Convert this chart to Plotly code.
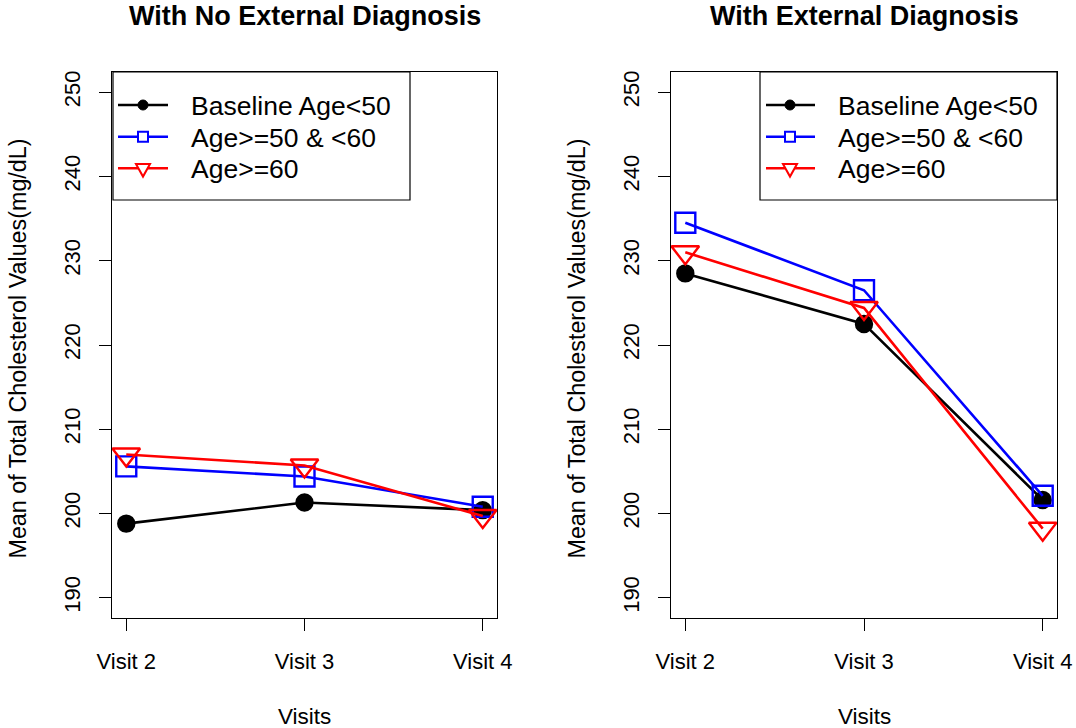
import plotly.graph_objects as go

visits = [1, 2, 3]
visit_labels = ["Visit 2", "Visit 3", "Visit 4"]
series_names = ["Baseline Age<50", "Age>=50 & <60", "Age>=60"]

no_ext_age_lt50 = [198.8, 201.3, 200.4]
no_ext_age_50_60 = [205.6, 204.4, 200.8]
no_ext_age_ge60 = [207.0, 205.7, 199.7]

ext_age_lt50 = [228.5, 222.5, 201.6]
ext_age_50_60 = [234.5, 226.5, 202.1]
ext_age_ge60 = [231.0, 224.4, 198.2]

panel_titles = ["With No External Diagnosis", "With External Diagnosis"]
y_ticks = [190, 200, 210, 220, 230, 240, 250]
y_title = "Mean of Total Cholesterol Values(mg/dL)"
x_title = "Visits"

colors = ["black", "blue", "red"]
symbols = ["circle", "square-open", "triangle-down-open"]
msizes = [16, 20, 24]

FONT = "Liberation Sans, Arial, Helvetica, sans-serif"
W, H = 1076, 728


def px(x):
    return x / W


def py(y):
    return 1 - y / H


fig = go.Figure()

panels = [
    [no_ext_age_lt50, no_ext_age_50_60, no_ext_age_ge60],
    [ext_age_lt50, ext_age_50_60, ext_age_ge60],
]

for p, data in enumerate(panels):
    xa = "x" if p == 0 else "x2"
    ya = "y" if p == 0 else "y2"
    for i, vals in enumerate(data):
        fig.add_trace(go.Scatter(
            x=visits, y=vals, mode="lines+markers", name=series_names[i],
            line=dict(color=colors[i], width=2.6),
            marker=dict(symbol=symbols[i], size=msizes[i], color=colors[i],
                        line=dict(color=colors[i], width=2.4)),
            xaxis=xa, yaxis=ya, showlegend=False,
        ))

# pixel geometry of plot boxes (page pixels)
boxes = [(112, 497), (671, 1057)]
top_px, bot_px = 72, 618
ydom = [py(bot_px), py(top_px)]

axis_common = dict(
    showline=True, linecolor="black", linewidth=1.2, mirror=True,
    ticks="outside", ticklen=12, tickwidth=1.2, tickcolor="black",
    showgrid=False, zeroline=False, automargin=False, ticklabeloverflow="allow",
    tickfont=dict(family=FONT, size=22, color="black"),
)

layout = dict(
    width=W, height=H, autosize=False,
    margin=dict(l=0, r=0, t=0, b=0, autoexpand=False),
    paper_bgcolor="white", plot_bgcolor="white",
    font=dict(family=FONT, color="black"),
    showlegend=False,
    annotations=[], shapes=[],
)

for p in range(2):
    xk = "xaxis" if p == 0 else "xaxis2"
    yk = "yaxis" if p == 0 else "yaxis2"
    x0, x1 = boxes[p]
    layout[xk] = dict(axis_common, domain=[px(x0), px(x1)], range=[0.92, 3.08],
                      tickvals=visits, ticktext=visit_labels,
                      anchor="y" if p == 0 else "y2", ticklabelstandoff=11)
    layout[yk] = dict(axis_common, domain=ydom, range=[187.6, 252.4],
                      tickvals=y_ticks, tickangle=-90,
                      anchor="x" if p == 0 else "x2", ticklabelstandoff=10)
    cx = px((x0 + x1) / 2)
    layout["annotations"].append(dict(
        text="<b>" + panel_titles[p] + "</b>", x=cx, y=py(16),
        xref="paper", yref="paper", showarrow=False, xanchor="center", yanchor="middle",
        font=dict(family=FONT, size=27, color="black")))
    layout["annotations"].append(dict(
        text=x_title, x=cx, y=py(716),
        xref="paper", yref="paper", showarrow=False, xanchor="center", yanchor="middle",
        font=dict(family=FONT, size=22.5, color="black")))
    layout["annotations"].append(dict(
        text=y_title, x=px(x0 - 95), y=py(348.5),
        xref="paper", yref="paper", showarrow=False, textangle=-90,
        xanchor="center", yanchor="middle",
        font=dict(family=FONT, size=23.3, color="black")))

# legends (box, key lines, key symbols, labels) in page pixels
leg_boxes = [(113, 410), (760, 1057)]
leg_key = [(118, 168, 143, 191), (766, 815, 790, 838)]
row_y = [105, 136.7, 168.3]
for p in range(2):
    lx0, lx1 = leg_boxes[p]
    k0, k1, kc, tx = leg_key[p]
    layout["shapes"].append(dict(
        type="rect", xref="paper", yref="paper",
        x0=px(lx0), x1=px(lx1), y0=py(200), y1=py(72),
        line=dict(color="black", width=1.2), fillcolor="rgba(0,0,0,0)"))
    for i in range(3):
        ry = row_y[i]
        layout["shapes"].append(dict(
            type="line", xref="paper", yref="paper",
            x0=px(k0), x1=px(k1), y0=py(ry), y1=py(ry),
            line=dict(color=colors[i], width=2.6)))
        common = dict(xref="paper", yref="paper", xsizemode="pixel", ysizemode="pixel",
                      xanchor=px(kc), yanchor=py(ry))
        if i == 0:
            layout["shapes"].append(dict(type="circle", x0=-5, x1=5, y0=-5, y1=5,
                                         fillcolor="black", line=dict(color="black", width=1),
                                         **common))
        elif i == 1:
            layout["shapes"].append(dict(type="rect", x0=-5, x1=5, y0=-5, y1=5,
                                         fillcolor="white", line=dict(color="blue", width=2),
                                         **common))
        else:
            layout["shapes"].append(dict(type="path", path="M-7,4.2 L7,4.2 L0,-8.3 Z",
                                         fillcolor="white", line=dict(color="red", width=2),
                                         **common))
        layout["annotations"].append(dict(
            text=series_names[i], x=px(tx), y=py(ry + 1),
            xref="paper", yref="paper", showarrow=False, xanchor="left", yanchor="middle",
            xshift=-2, font=dict(family=FONT, size=26.5, color="black")))

fig.update_layout(**layout)
fig.write_html("out.html", config={"displayModeBar": False},
               post_script="document.body.style.margin='0';document.body.style.padding='0';")
